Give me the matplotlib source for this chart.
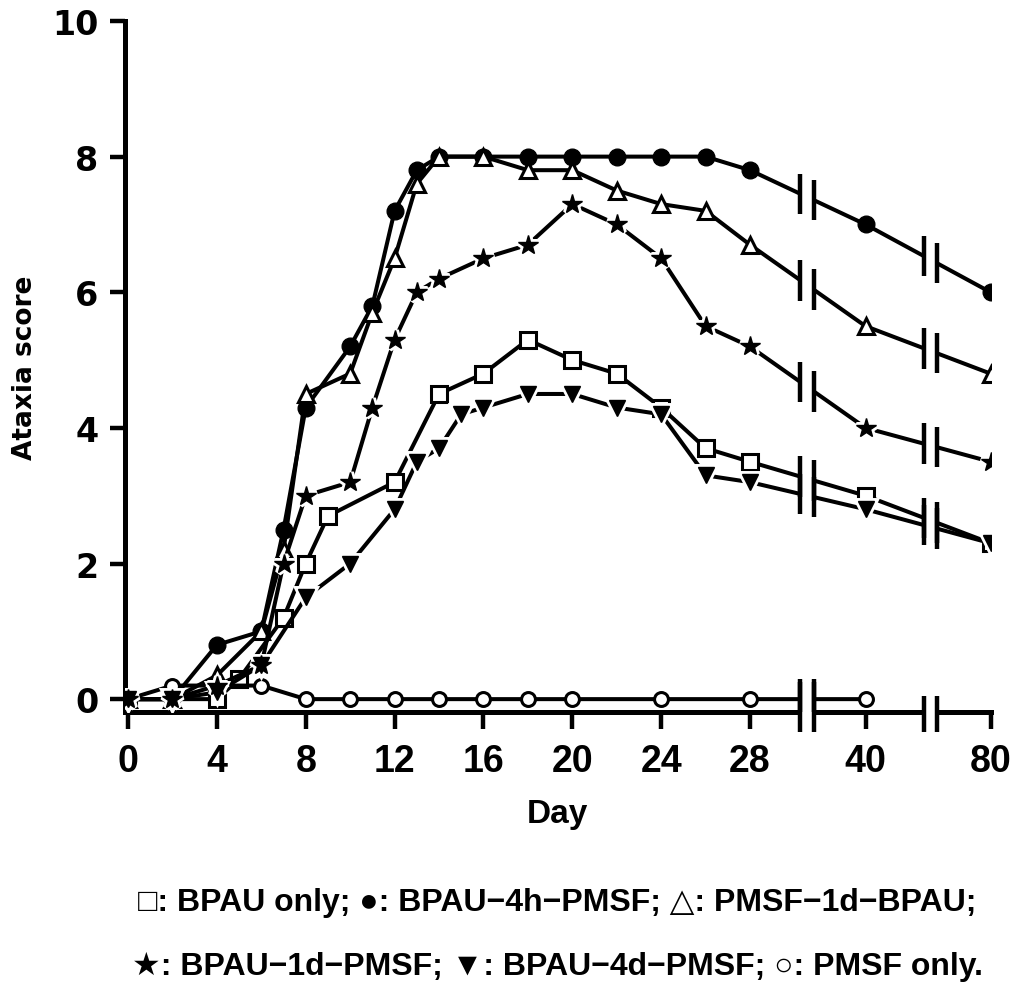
import numpy as np
import matplotlib
matplotlib.use("Agg")
import matplotlib.pyplot as plt

narrow = ['Liberation Sans', 'DejaVu Sans']

# days sampled for each group and the ataxia score read at each day
days_bpau = [0, 4, 5, 7, 8, 9, 12, 14, 16, 18, 20, 22, 24, 26, 28, 40, 80]
score_bpau = [0, 0, 0.3, 1.2, 2.0, 2.7, 3.2, 4.5, 4.8, 5.3, 5.0, 4.8, 4.3, 3.7, 3.5, 3.0, 2.3]

days_4h = [0, 2, 4, 6, 7, 8, 10, 11, 12, 13, 14, 16, 18, 20, 22, 24, 26, 28, 40, 80]
score_4h = [0, 0, 0.8, 1.0, 2.5, 4.3, 5.2, 5.8, 7.2, 7.8, 8.0, 8.0, 8.0, 8.0, 8.0, 8.0, 8.0, 7.8, 7.0, 6.0]

days_pre1d = [0, 2, 4, 6, 7, 8, 10, 11, 12, 13, 14, 16, 18, 20, 22, 24, 26, 28, 40, 80]
score_pre1d = [0, 0, 0.35, 1.0, 2.2, 4.5, 4.8, 5.7, 6.5, 7.6, 8.0, 8.0, 7.8, 7.8, 7.5, 7.3, 7.2, 6.7, 5.5, 4.8]

days_1d = [0, 2, 4, 6, 7, 8, 10, 11, 12, 13, 14, 16, 18, 20, 22, 24, 26, 28, 40, 80]
score_1d = [0, 0, 0.2, 0.5, 2.0, 3.0, 3.2, 4.3, 5.3, 6.0, 6.2, 6.5, 6.7, 7.3, 7.0, 6.5, 5.5, 5.2, 4.0, 3.5]

days_4d = [0, 2, 4, 6, 8, 10, 12, 13, 14, 15, 16, 18, 20, 22, 24, 26, 28, 40, 80]
score_4d = [0, 0, 0.1, 0.5, 1.5, 2.0, 2.8, 3.5, 3.7, 4.2, 4.3, 4.5, 4.5, 4.3, 4.2, 3.3, 3.2, 2.8, 2.3]

days_pmsf = [0, 2, 4, 6, 8, 10, 12, 14, 16, 18, 20, 24, 28, 40]
score_pmsf = [0, 0.2, 0.2, 0.2, 0, 0, 0, 0, 0, 0, 0, 0, 0, 0]

tick_days = [0, 4, 8, 12, 16, 20, 24, 28, 40, 80]

# broken axis: linear up to day 28, then compressed segments for 40 and 80
def to_pos(d):
    return np.interp(d, [0, 28, 40, 80], [0, 28, 33.2, 38.83])

breaks = [(30.27, 30.87), (35.83, 36.40)]

fig = plt.figure(figsize=(10.19, 9.95), dpi=100)
ax = fig.add_axes([0.1224, 0.2834, 0.8497, 0.6945])

series = [
    (days_bpau, score_bpau, dict(marker='s', ms=11, mfc='white', mec='black', mew=2.2), False),
    (days_4h, score_4h, dict(marker='o', ms=12, mfc='black', mec='black'), False),
    (days_pre1d, score_pre1d, dict(marker='^', ms=12, mfc='white', mec='black', mew=2.2), False),
    (days_1d, score_1d, dict(marker='*', ms=15, mfc='black', mec='black'), True),
    (days_4d, score_4d, dict(marker='v', ms=12, mfc='black', mec='black'), True),
    (days_pmsf, score_pmsf, dict(marker='o', ms=10, mfc='white', mec='black', mew=2.2), False),
]

for d, s, st, halo in series:
    x = to_pos(np.array(d, dtype=float))
    if halo:
        # line first, then a white ring so the filled symbols stand apart
        ax.plot(x, s, color='black', lw=2.9, zorder=3)
        ax.plot(x, s, ls='none', marker=st['marker'], ms=st['ms'], mfc='white',
                mec='white', mew=5, zorder=3.1)
        ax.plot(x, s, ls='none', zorder=3.2, color='black', **st)
    else:
        ax.plot(x, s, color='black', lw=2.9, zorder=3, **st)

# white strips hide the lines inside each break
for b0, b1 in breaks:
    ax.axvspan(b0 + 0.06, b1 - 0.06, ymin=-0.02, ymax=1, color='white', lw=0,
               zorder=4, clip_on=False)

# double bars on every line that crosses a break
for d, s, st, halo in series:
    x = to_pos(np.array(d, dtype=float))
    for b0, b1 in breaks:
        if x[-1] < b1:
            continue
        for bx in (b0, b1):
            yv = np.interp(bx, x, s)
            ax.plot([bx, bx], [yv - 0.3, yv + 0.3], color='black', lw=3.2,
                    solid_capstyle='butt', zorder=5)

# double bars on the x axis
for (b0, b1), top in zip(breaks, [0.25, 0.04]):
    for bx in (b0, b1):
        ax.plot([bx, bx], [-0.49, top], color='black', lw=3.2,
                solid_capstyle='butt', zorder=5, clip_on=False)

ax.set_xlim(-0.15, 38.83)
ax.set_ylim(-0.19, 10)
ax.spines['top'].set_visible(False)
ax.spines['right'].set_visible(False)
for sp in ('left', 'bottom'):
    ax.spines[sp].set_linewidth(3.6)

ax.set_xticks(to_pos(np.array(tick_days, dtype=float)))
ax.set_xticklabels([str(t) for t in tick_days], family=narrow, fontweight='bold',
                   fontsize=27)
ax.set_yticks([0, 2, 4, 6, 8, 10])
ax.set_yticklabels(['0', '2', '4', '6', '8', '10'], family='DejaVu Sans',
                   fontweight='bold', fontsize=24)
ax.tick_params(axis='x', direction='out', length=12, width=3.2, pad=10)
ax.tick_params(axis='y', direction='out', length=11, width=3.2, pad=8)

ax.set_xlabel('Day', family=narrow, fontweight='bold', fontsize=24, labelpad=14)
ax.set_ylabel('Ataxia score', family='DejaVu Sans', fontweight='bold', fontsize=19,
              labelpad=10)

fig.text(0.547, 0.092, '□: BPAU only; ●: BPAU−4h−PMSF; △: PMSF−1d−BPAU;',
         family=narrow, fontweight='bold', fontsize=23, ha='center', va='center')
fig.text(0.547, 0.028, '★: BPAU−1d−PMSF; ▼: BPAU−4d−PMSF; ○: PMSF only.',
         family=narrow, fontweight='bold', fontsize=23, ha='center', va='center')

fig.savefig('out.png', dpi=100)
